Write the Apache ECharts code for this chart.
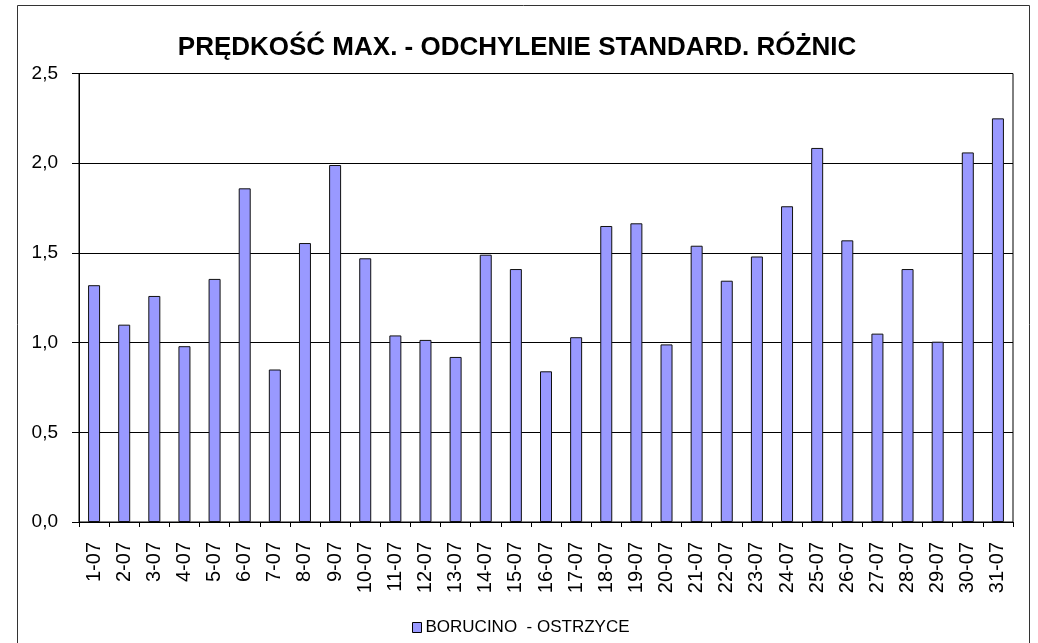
<!DOCTYPE html>
<html>
<head>
<meta charset="utf-8">
<script src="https://cdn.jsdelivr.net/npm/echarts@6/dist/echarts.min.js"></script>
<style>
  html, body { margin: 0; padding: 0; background: #fff; }
  #chart { width: 1038px; height: 643px; }
</style>
</head>
<body>
<div id="chart"></div>
<script>
// Daily standard deviation of differences in maximum speed, July
const days = ['1-07','2-07','3-07','4-07','5-07','6-07','7-07','8-07','9-07','10-07',
  '11-07','12-07','13-07','14-07','15-07','16-07','17-07','18-07','19-07','20-07',
  '21-07','22-07','23-07','24-07','25-07','26-07','27-07','28-07','29-07','30-07','31-07'];
const borucinoOstrzyce = [1.32, 1.10, 1.26, 0.98, 1.355, 1.86, 0.85, 1.555, 1.99, 1.47,
  1.04, 1.015, 0.92, 1.49, 1.41, 0.84, 1.03, 1.65, 1.665, 0.99,
  1.54, 1.345, 1.48, 1.76, 2.085, 1.57, 1.05, 1.41, 1.005, 2.06, 2.25];
const seriesName = 'BORUCINO  - OSTRZYCE';
const titleText = 'PRĘDKOŚĆ MAX. - ODCHYLENIE STANDARD. RÓŻNIC';

const chart = echarts.init(document.getElementById('chart'), null, { renderer: 'canvas' });
const font = 'Arial, "Liberation Sans", sans-serif';

chart.setOption({
  backgroundColor: '#ffffff',
  animation: false,
  title: {
    text: titleText,
    left: 512,
    textAlign: 'center',
    top: 30,
    textStyle: { fontFamily: font, fontSize: 26, fontWeight: 'bold', color: '#000' }
  },
  legend: {
    data: [seriesName],
    left: 407,
    top: 614,
    itemWidth: 9,
    itemHeight: 10,
    itemGap: 6,
    icon: 'rect',
    textStyle: { fontFamily: font, fontSize: 17, color: '#000', padding: [0, 0, 0, -1] },
    itemStyle: { borderColor: '#000', borderWidth: 1 }
  },
  grid: { left: 79, top: 73.5, right: 25, bottom: 121, show: true, borderColor: '#000', borderWidth: 1 },
  xAxis: {
    type: 'category',
    data: days,
    boundaryGap: true,
    axisLine: { lineStyle: { color: '#000', width: 1 } },
    axisTick: { show: true, alignWithLabel: false, length: 5, lineStyle: { color: '#000' } },
    axisLabel: { rotate: 90, margin: 20, interval: 0, fontFamily: font, fontSize: 20, color: '#000' }
  },
  yAxis: {
    type: 'value',
    min: 0, max: 2.5, interval: 0.5,
    axisLine: { show: true, lineStyle: { color: '#000', width: 1 } },
    axisTick: { show: true, length: 7, lineStyle: { color: '#000' } },
    splitLine: { show: true, lineStyle: { color: '#000', width: 1 } },
    axisLabel: {
      margin: 21, fontFamily: font, fontSize: 19, color: '#000',
      formatter: v => v.toFixed(1).replace('.', ',')
    }
  },
  series: [{
    name: seriesName,
    type: 'bar',
    data: borucinoOstrzyce,
    barWidth: 12,
    itemStyle: { color: '#9999FF', borderColor: '#111', borderWidth: 1 }
  }],
  graphic: [{
    type: 'rect',
    shape: { x: 17.5, y: 5.5, width: 1012, height: 660 },
    style: { fill: null, stroke: '#333', lineWidth: 1 },
    silent: true, z: -1
  }]
});
</script>
</body>
</html>
